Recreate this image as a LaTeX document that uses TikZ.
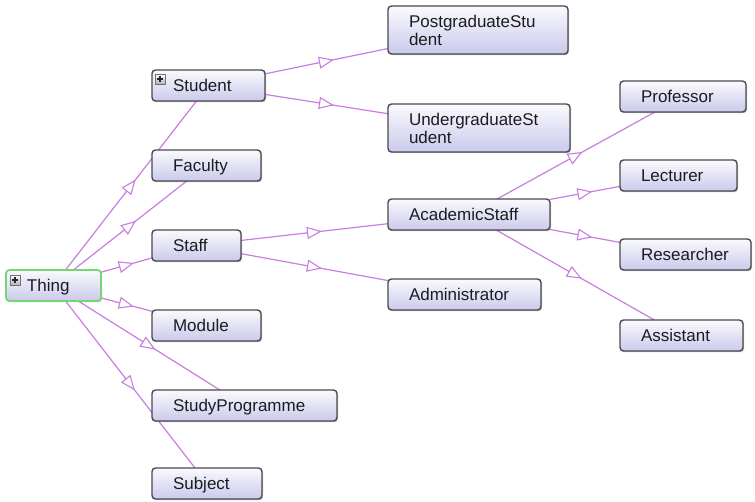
\documentclass[tikz,border=0pt]{standalone}
\usepackage{fontspec}
\setmainfont{Liberation Sans}
\usetikzlibrary{arrows.meta,decorations.markings,shadows}
\pgfdeclarelayer{background}
\pgfsetlayers{background,main}

\definecolor{edgecol}{RGB}{200,126,224}
\definecolor{boxtop}{RGB}{250,250,254}
\definecolor{boxbot}{RGB}{202,202,236}
\definecolor{boxline}{RGB}{74,74,78}
\definecolor{rootline}{RGB}{118,214,118}
\definecolor{labeltext}{RGB}{28,28,32}

\tikzset{
  cls/.style={draw=boxline, line width=1.4pt, rounded corners=3.5pt,
    top color=boxtop, bottom color=boxbot, anchor=north west,
    inner xsep=21pt, inner ysep=0pt, outer sep=0pt, align=left,
    font=\fontsize{17}{18}\selectfont, text=labeltext,
    drop shadow={shadow xshift=1pt, shadow yshift=-1.2pt, opacity=0.25, fill=black}},
  oneline/.style={cls, minimum height=31pt, text height=13pt, text depth=2pt},
  twoline/.style={cls, minimum height=48pt, text height=14pt, text depth=20pt},
  rootcls/.style={oneline, draw=rootline, line width=1.8pt},
  link/.style={draw=edgecol, line width=1.2pt, postaction={decorate},
    decoration={markings, mark=at position 0.5 with
      {\arrow[xshift=7.5pt, edgecol, line width=1.1pt]{Triangle[open, fill=white, length=15pt, width=12pt]}}}},
  plusbox/.pic={
    \path[draw=black!55, line width=0.5pt, top color=white, bottom color=black!30] (0,0) rectangle (10,10);
    \draw[line width=1.6pt, black!85] (2.4,5) -- (7.6,5) (5,2.4) -- (5,7.6);
  }
}

\begin{document}
\begin{tikzpicture}[x=1pt, y=-1pt]
\useasboundingbox (0,0) rectangle (755,501);

% class boxes (top-left corner given in pixel coordinates)
\node[rootcls, text width=53pt] (thing) at (6,270) {Thing};

\node[oneline, text width=71pt]  (student) at (152,70)  {Student};
\node[oneline, text width=67pt]  (faculty) at (152,150) {Faculty};
\node[oneline, text width=47pt]  (staff)   at (152,230) {Staff};
\node[oneline, text width=67pt]  (module)  at (152,310) {Module};
\node[oneline, text width=143pt] (studyprog) at (152,390) {StudyProgramme};
\node[oneline, text width=68pt]  (subject) at (152,468) {Subject};

\node[twoline, text width=138pt] (postgrad)  at (388,6)   {PostgraduateStu\\dent};
\node[twoline, text width=140pt] (undergrad) at (388,104) {UndergraduateSt\\udent};
\node[oneline, text width=120pt] (academic)  at (388,199) {AcademicStaff};
\node[oneline, text width=111pt] (admin)     at (388,279) {Administrator};

\node[oneline, text width=84pt] (professor)  at (620,81)  {Professor};
\node[oneline, text width=75pt] (lecturer)   at (620,160) {Lecturer};
\node[oneline, text width=89pt] (researcher) at (620,239) {Researcher};
\node[oneline, text width=81pt] (assistant)  at (620,320) {Assistant};

% expand icons
\pic at ([shift={(4,5)}]thing.north west) {plusbox};
\pic at ([shift={(3,4)}]student.north west) {plusbox};

% subclass links, drawn beneath the boxes
\begin{pgfonlayer}{background}
\fill[white] (0,0) rectangle (755,501);
\draw[link] (thing) -- (student);
\draw[link] (thing) -- (faculty);
\draw[link] (thing) -- (staff);
\draw[link] (thing) -- (module);
\draw[link] (thing) -- (studyprog);
\draw[link] (thing) -- (subject);
\draw[link] (student) -- (postgrad);
\draw[link] (student) -- (undergrad);
\draw[link] (staff) -- (academic);
\draw[link] (staff) -- (admin);
\draw[link] (academic) -- (professor);
\draw[link] (academic) -- (lecturer);
\draw[link] (academic) -- (researcher);
\draw[link] (academic) -- (assistant);
\end{pgfonlayer}
\end{tikzpicture}
\end{document}
